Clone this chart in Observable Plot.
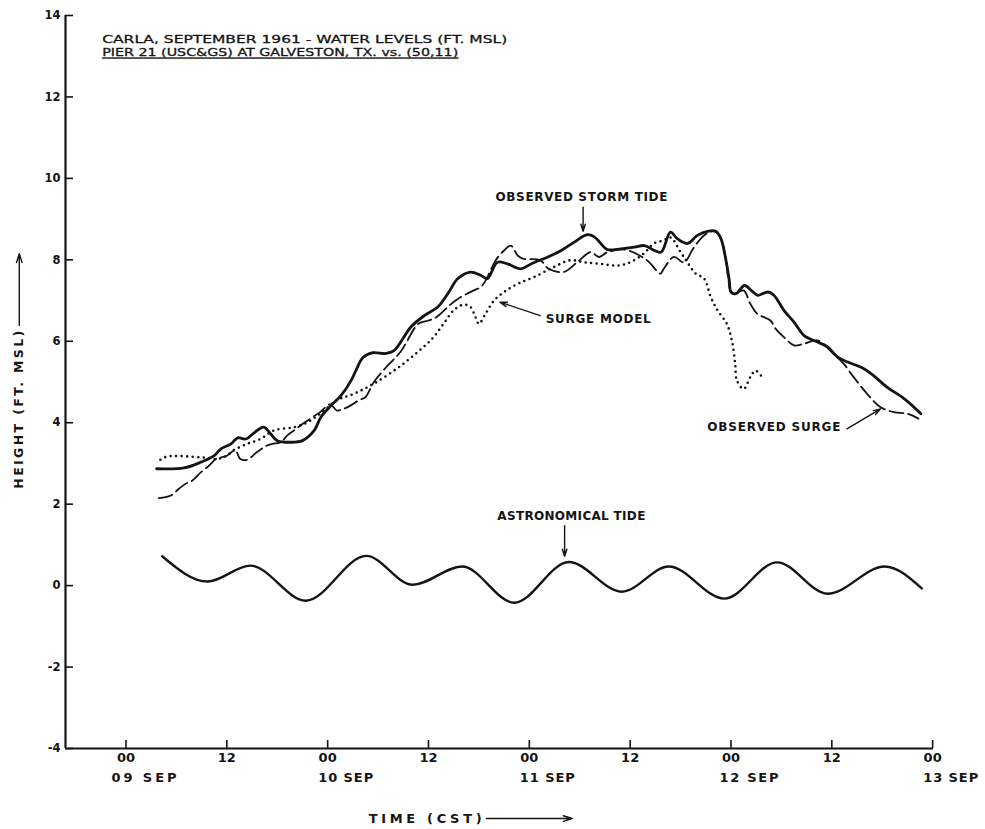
<!DOCTYPE html>
<html>
<head>
<meta charset="utf-8">
<script src="https://cdn.jsdelivr.net/npm/d3@7"></script>
<script src="https://cdn.jsdelivr.net/npm/@observablehq/plot@0.6"></script>
<style>
  html, body { margin: 0; padding: 0; background: #fff; overflow: hidden; }
</style>
</head>
<body>
<div id="chart"></div>
<script>
// ---------- data (hours after 00 CST 09 SEP 1961, height in ft MSL) ----------
const stormTideHours = [3.65,6.9,8.9,10.5,11.3,12.5,13.3,14.25,15.6,16.4,17.2,18.0,19.6,21.0,22.4,23.2,24.4,25.6,26.8,27.4,28.2,29.4,30.9,31.9,33.9,35.5,37.1,38.3,39.5,41.0,42.2,43.0,44.2,45.4,47.0,48.2,50.2,51.8,53.3,54.9,55.7,56.9,57.3,58.9,60.5,61.7,62.9,63.7,64.8,65.6,66.8,68.0,69.2,70.2,70.8,71.4,71.8,72.0,72.6,73.6,74.4,75.2,76.4,77.1,78.3,79.5,80.7,82.3,83.5,84.7,85.9,87.5,88.7,90.6,92.6,94.6];
const stormTideFt = [2.87,2.89,3.03,3.19,3.36,3.48,3.63,3.60,3.81,3.89,3.73,3.56,3.52,3.56,3.81,4.14,4.42,4.67,5.04,5.30,5.60,5.72,5.70,5.77,6.35,6.63,6.84,7.17,7.54,7.70,7.62,7.54,7.94,7.90,7.78,7.90,8.07,8.23,8.43,8.62,8.57,8.31,8.25,8.27,8.31,8.35,8.23,8.19,8.68,8.52,8.40,8.60,8.70,8.70,8.52,7.99,7.49,7.21,7.17,7.37,7.25,7.13,7.21,7.13,6.76,6.47,6.14,5.98,5.86,5.61,5.49,5.36,5.20,4.87,4.59,4.22];

const surgeHours = [3.9,5.3,6.3,7.1,7.9,8.9,9.9,10.7,11.2,12.0,13.0,13.6,14.4,15.6,16.8,17.4,18.4,19.2,20.0,21.0,23.1,24.3,25.1,25.9,26.7,27.7,28.5,29.5,30.9,32.7,34.8,36.0,37.0,38.6,39.8,41.4,42.2,42.8,44.0,45.0,45.8,46.6,47.2,49.3,50.3,52.1,53.7,55.3,56.3,57.3,59.4,62.0,63.6,64.0,65.2,66.4,67.6,68.8,70.0,70.8,71.4,71.7,72.0,72.5,73.5,74.3,75.1,76.7,77.3,78.3,79.5,80.7,82.3,84.2,85.4,86.6,88.2,89.8,91.4,93.0,94.3];
const surgeFt = [2.15,2.21,2.38,2.50,2.58,2.78,2.95,3.11,3.14,3.19,3.32,3.11,3.09,3.28,3.44,3.48,3.52,3.69,3.81,3.97,4.26,4.45,4.30,4.34,4.42,4.55,4.63,5.00,5.35,5.75,6.43,6.51,6.60,6.90,7.08,7.25,7.33,7.49,7.99,8.23,8.35,8.11,8.03,7.99,7.78,7.70,7.94,8.19,8.07,8.19,8.25,7.99,7.66,7.78,8.07,7.94,8.31,8.60,8.70,8.52,7.99,7.49,7.21,7.17,7.25,6.92,6.68,6.51,6.31,6.10,5.90,5.94,6.02,5.69,5.45,5.12,4.71,4.38,4.26,4.22,4.10];

const modelHours = [4.1,4.9,8.9,10.9,12.0,12.8,14.4,16.0,17.6,20.0,21.6,23.1,25.1,27.1,29.5,32.7,35.4,36.6,37.8,39.0,40.2,41.0,41.6,42.0,42.8,43.8,45.0,46.6,48.5,50.9,52.9,54.5,56.5,58.5,60.0,61.6,62.8,64.0,64.8,66.0,66.8,67.8,68.8,69.6,70.4,71.5,72.1,72.5,72.7,73.5,74.3,74.9,75.7];
const modelFt = [3.09,3.17,3.15,3.11,3.19,3.32,3.48,3.60,3.81,3.89,4.01,4.22,4.55,4.71,4.96,5.40,5.86,6.10,6.43,6.76,6.90,6.84,6.59,6.43,6.68,7.00,7.21,7.41,7.57,7.82,7.99,7.94,7.90,7.86,7.94,8.15,8.40,8.48,8.55,8.19,7.94,7.66,7.54,7.08,6.76,6.43,6.02,5.45,5.04,4.83,5.12,5.28,5.12];

const tideHours = [4.3,9.7,14.8,21.4,28.6,34.1,40.0,46.2,52.7,59.0,64.6,71.2,77.5,83.5,90.3,94.7];
const tideFt = [0.72,0.10,0.49,-0.37,0.73,0.02,0.47,-0.42,0.58,-0.15,0.47,-0.32,0.57,-0.20,0.47,-0.07];

const xTicks = [0,12,24,36,48,60,72,84,96];
const xTickLabels = ["00","12","00","12","00","12","00","12","00"];
const dayTicks = [0,24,48,72,96];
const dayLabels = ["09 SEP","10 SEP","11 SEP","12 SEP","13 SEP"];
const yTicks = [-4,-2,0,2,4,6,8,10,12,14];
const yTickLabels = ["-4","-2","0","2","4","6","8","10","12","14"];

const titleLine1 = "CARLA, SEPTEMBER 1961 - WATER LEVELS (FT. MSL)";
const titleLine2 = "PIER 21 (USC&GS) AT GALVESTON, TX. vs. (50,11)";

// ---------- tables ----------
const toRows = (hs, vs) => hs.map((h, i) => ({h, v: vs[i]}));
const stormTide = toRows(stormTideHours, stormTideFt);
const surge = toRows(surgeHours, surgeFt);
const model = toRows(modelHours, modelFt);
const tide = toRows(tideHours, tideFt);

const ink = "#141414";
const xDomain = [-7.2, 96.1];
const yDomain = [-4, 14];
const bold = {fontWeight: "bold", fill: ink};
const head = {stroke: ink, strokeWidth: 1.4, headLength: 8, headAngle: 35};

const svg = Plot.plot({
  width: 985,
  height: 829,
  marginLeft: 65,
  marginRight: 52,
  marginTop: 15,
  marginBottom: 81,
  x: {domain: xDomain, axis: null},
  y: {domain: yDomain, axis: null},
  style: {fontFamily: "'DejaVu Sans', sans-serif", background: "#fff", color: ink},
  marks: [
    // axes
    Plot.ruleX([xDomain[0]], {stroke: ink, strokeWidth: 2.2}),
    Plot.ruleY([yDomain[0]], {stroke: ink, strokeWidth: 2.2}),
    Plot.ruleX(xTicks, {x: d => d, insetTop: 725, stroke: ink, strokeWidth: 1.6}),
    Plot.ruleY(yTicks, {y: d => d, insetRight: 860, stroke: ink, strokeWidth: 1.6}),
    Plot.text(xTicks, {x: d => d, text: (d, i) => xTickLabels[i], frameAnchor: "bottom", dy: 13, fontSize: 13, ...bold}),
    Plot.text(dayTicks, {x: d => d, text: (d, i) => dayLabels[i], frameAnchor: "bottom", dy: 33, dx: 18, fontSize: 13, ...bold}),
    Plot.text(yTicks, {y: d => d, text: (d, i) => yTickLabels[i], frameAnchor: "left", textAnchor: "end", dx: -5, fontSize: 11.5, ...bold}),

    // axis titles
    Plot.text(["TIME (CST)"], {x: 35.6, y: -5.72, fontSize: 13, ...bold}),
    Plot.arrow([0], {x1: 42.9, y1: -5.72, x2: 53.1, y2: -5.72, ...head, headLength: 10}),
    Plot.text(["HEIGHT (FT. MSL)"], {x: -12.7, y: 4.32, rotate: -90, fontSize: 12.5, ...bold}),
    Plot.arrow([0], {x1: -12.7, y1: 6.39, x2: -12.7, y2: 8.15, ...head, headLength: 10}),

    // series
    Plot.line(tide, {x: "h", y: "v", curve: "monotone-x", stroke: ink, strokeWidth: 2.4}),
    Plot.line(surge, {x: "h", y: "v", curve: "catmull-rom", stroke: ink, strokeWidth: 1.8, strokeDasharray: "14,5"}),
    Plot.line(model, {x: "h", y: "v", curve: "catmull-rom", stroke: ink, strokeWidth: 2.6, strokeDasharray: "0,5.5", strokeLinecap: "round"}),
    Plot.line(stormTide, {x: "h", y: "v", curve: "catmull-rom", stroke: ink, strokeWidth: 2.8, strokeLinejoin: "round"}),

    // annotations
    Plot.text([titleLine1], {x: -2.83, y: 13.40, textAnchor: "start", fontSize: 11, fill: ink, stroke: ink, strokeWidth: 0.3}),
    Plot.text([titleLine2], {x: -2.83, y: 13.08, textAnchor: "start", fontSize: 11, fill: ink, stroke: ink, strokeWidth: 0.3}),
    Plot.text(["OBSERVED STORM TIDE"], {x: 54.2, y: 9.54, fontSize: 12, ...bold}),
    Plot.arrow([0], {x1: 54.4, y1: 9.29, x2: 54.4, y2: 8.70, ...head}),
    Plot.text(["SURGE MODEL"], {x: 56.2, y: 6.54, fontSize: 12, ...bold}),
    Plot.arrow([0], {x1: 49.3, y1: 6.63, x2: 44.5, y2: 6.96, ...head}),
    Plot.text(["OBSERVED SURGE"], {x: 77.1, y: 3.89, fontSize: 12, ...bold}),
    Plot.arrow([0], {x1: 85.8, y1: 3.85, x2: 89.8, y2: 4.34, ...head}),
    Plot.text(["ASTRONOMICAL TIDE"], {x: 53.0, y: 1.70, fontSize: 12, ...bold}),
    Plot.arrow([0], {x1: 52.2, y1: 1.47, x2: 52.2, y2: 0.72, ...head})
  ]
});

// match the hand-lettered text widths of the original
const widths = new Map([
  [titleLine1, 405], [titleLine2, 356],
  ["OBSERVED STORM TIDE", 172], ["SURGE MODEL", 105], ["OBSERVED SURGE", 133], ["ASTRONOMICAL TIDE", 148],
  ["TIME (CST)", 113], ["HEIGHT (FT. MSL)", 158],
  ["09 SEP", 65], ["10 SEP", 55], ["11 SEP", 55], ["12 SEP", 59], ["13 SEP", 55]
]);
d3.select(svg).selectAll("text").each(function () {
  const t = this.textContent;
  if (widths.has(t)) {
    this.setAttribute("textLength", widths.get(t));
    this.setAttribute("lengthAdjust", (t === titleLine1 || t === titleLine2) ? "spacingAndGlyphs" : "spacing");
  }
  if (t === titleLine2) this.style.textDecoration = "underline";
});

document.getElementById("chart").appendChild(svg);
</script>
</body>
</html>
